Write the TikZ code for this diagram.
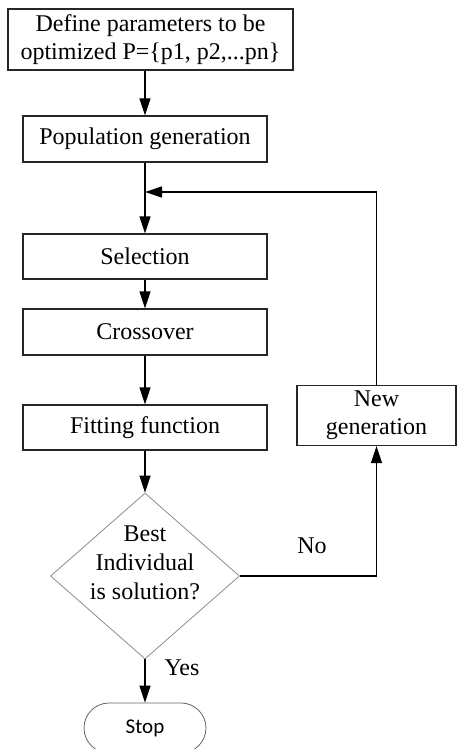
\documentclass[tikz,border=0pt]{standalone}
\usepackage{fontspec}
\setmainfont{Liberation Serif}
\newfontfamily\stopfont{Carlito}
\usetikzlibrary{arrows.meta,shapes.geometric,shapes.misc,positioning}
\begin{document}
\begin{tikzpicture}[x=1pt,y=-1pt,
  box/.style={draw=black!85,line width=1.3pt,minimum height=45pt,inner sep=0pt,align=center,font=\fontsize{24}{28}\selectfont},
  dec/.style={draw=black!45,line width=0.8pt,diamond,inner sep=0pt,minimum width=189pt,minimum height=166pt},
  dectext/.style={align=center,font=\fontsize{24}{29}\selectfont,inner sep=0pt,yshift=13pt},
  term/.style={draw=black!60,line width=0.8pt,rounded rectangle,minimum width=122pt,minimum height=50pt,inner sep=0pt,font=\stopfont\fontsize{21}{24}\selectfont},
  lbl/.style={font=\fontsize{24}{28}\selectfont,inner sep=0pt},
  arr/.style={line width=1.3pt,-{Triangle[length=17pt,width=11pt]}}]
\useasboundingbox (0,0) rectangle (460,749);
\node[box,minimum width=285pt,minimum height=61pt] (def) at (150.5,39.5) {Define parameters to be\\optimized P=\{p1, p2,...pn\}};
\node[box,minimum width=244pt,minimum height=46pt] (pop) at (145,139) {Population generation};
\node[box,minimum width=244pt] (sel) at (145,256.5) {Selection};
\node[box,minimum width=244pt,minimum height=46pt] (cro) at (145,332) {Crossover};
\node[box,minimum width=244pt] (fit) at (145,427.5) {Fitting function};
\node[box,minimum width=159pt,minimum height=60pt] (new) at (376.5,415.5) {New\\generation};
\node[dec,label={[dectext]center:Best\\Individual\\is solution?}] (best) at (145,576) {};
\node[term] (stop) at (145,728) {Stop};
\coordinate (j) at (145,192);
\coordinate (c) at (new.north |- j);
\coordinate (nc) at (new.south |- best.east);
\coordinate (ds) at (def.south -| pop.north);
\node[lbl] (no) at (312,546) {No};
\node[lbl] (yes) at (182,668) {Yes};
\draw[arr] (ds) -- (pop.north);
\draw[arr] (pop.south) -- (sel.north);
\draw[arr] (sel.south) -- (cro.north);
\draw[arr] (cro.south) -- (fit.north);
\draw[arr] (fit.south) -- (best.north);
\draw[arr] (best.south) -- (stop.north);
\draw[arr] (best.east) -- (nc) -- (new.south);
\draw[arr] (new.north) -- (c) -- (j);
\end{tikzpicture}
\end{document}
